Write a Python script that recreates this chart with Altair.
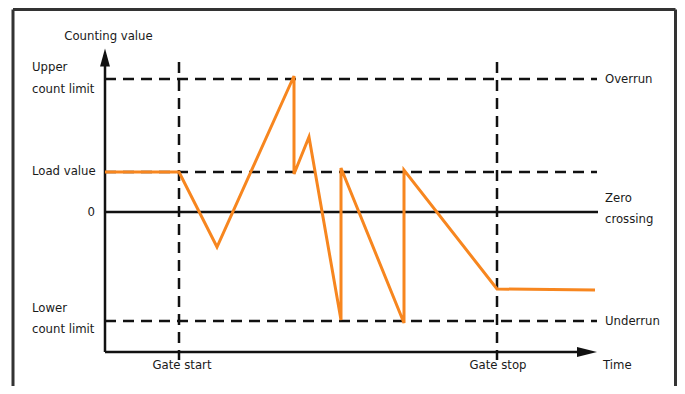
import altair as alt
import pandas as pd

# ---- data (diagram units: time on x, counting value on y) ----
levels = ["Upper count limit", "Load value", "Zero", "Lower count limit"]
level_values = [133, 40, 0, -109]
gate_names = ["Gate start", "Gate stop"]
gate_times = [74, 392]
curve_t = [0, 74, 112, 189, 189, 204, 236, 236, 299, 299, 392, 490]
curve_v = [40, 40, -35, 136, 38, 75, -108, 44, -111, 42, -77, -78]

W, H = 669, 378
XD = [-97, 572]
YD = [-174, 204]
xs = alt.Scale(domain=XD, nice=False, zero=False)
ys = alt.Scale(domain=YD, nice=False, zero=False)
FONT = "DejaVu Sans Condensed, sans-serif"
FS = 13
ORANGE = "#F7861F"
INK = "#111111"

def X(f):
    return alt.X(f, type="quantitative", scale=xs, axis=None)

def Y(f):
    return alt.Y(f, type="quantitative", scale=ys, axis=None)

AXIS_Y0 = -140   # time axis level
X_END = 492      # end of guide lines
V_TOP = 150
V_BOT = -148

# border (decoration, in pixels)
border = pd.DataFrame({
    "x": [5, 5, 667.5], "x2": [5, 667.5, 667.5],
    "y": [1.5, 1.5, 1.5], "y2": [378, 1.5, 378]})
border_layer = alt.Chart(border).mark_rule(color="#333333", strokeWidth=3).encode(
    x=alt.X("x:Q", scale=None, axis=None), x2="x2:Q",
    y=alt.Y("y:Q", scale=None, axis=None), y2="y2:Q")

dash_df = pd.DataFrame({"v": [level_values[0], level_values[1], level_values[3]],
                        "t0": [0, 0, 0], "t1": [X_END] * 3})
hdash = alt.Chart(dash_df).mark_rule(color=INK, strokeWidth=2.5, strokeDash=[11, 7]).encode(
    x=X("t0"), x2="t1:Q", y=Y("v"))

vdash_df = pd.DataFrame({"t": gate_times, "v0": [V_TOP] * 2, "v1": [V_BOT] * 2})
vdash = alt.Chart(vdash_df).mark_rule(color=INK, strokeWidth=2.5, strokeDash=[11, 7]).encode(
    x=X("t"), y=Y("v0"), y2="v1:Q")

zero_df = pd.DataFrame({"t0": [0], "t1": [X_END + 1], "v": [level_values[2]]})
zero_line = alt.Chart(zero_df).mark_rule(color=INK, strokeWidth=2.5).encode(
    x=X("t0"), x2="t1:Q", y=Y("v"))

axes_df = pd.DataFrame({"t0": [0, 0], "t1": [0, 480], "v0": [AXIS_Y0, AXIS_Y0], "v1": [152, AXIS_Y0]})
axes = alt.Chart(axes_df).mark_rule(color=INK, strokeWidth=2.5).encode(
    x=X("t0"), x2="t1:Q", y=Y("v0"), y2="v1:Q")

arrow_up = alt.Chart(pd.DataFrame({"t": [0], "v": [154.5]})).mark_point(
    shape="M0,-1L0.55,1L-0.55,1Z", filled=True, color=INK, opacity=1, size=324, strokeWidth=0
).encode(x=X("t"), y=Y("v"))
arrow_right = alt.Chart(pd.DataFrame({"t": [482], "v": [AXIS_Y0]})).mark_point(
    shape="M1,0L-1,-0.5L-1,0.5Z", filled=True, color=INK, opacity=1, size=400, strokeWidth=0
).encode(x=X("t"), y=Y("v"))

curve_df = pd.DataFrame({"t": curve_t, "v": curve_v, "i": list(range(len(curve_t)))})
curve = alt.Chart(curve_df).mark_line(color=ORANGE, strokeWidth=3, strokeJoin="miter").encode(
    x=X("t"), y=Y("v"), order="i:O")

# labels
left_lab = pd.DataFrame({
    "t": [-73, -73, -73, -73, -73],
    "v": [145, 123, level_values[1] + 1, -96, -117],
    "txt": ["Upper", "count limit", "Load value", "Lower", "count limit"]})
right_lab = pd.DataFrame({
    "t": [500, 500, 500, 500, 498],
    "v": [level_values[0], 14, -7, level_values[3], -153],
    "txt": ["Overrun", "Zero", "crossing", "Underrun", "Time"]})
center_lab = pd.DataFrame({
    "t": [3.5, gate_times[0] + 3, gate_times[1] + 1],
    "v": [176, -153, -153],
    "txt": ["Counting value", gate_names[0], gate_names[1]]})
zero_lab = pd.DataFrame({"t": [-10], "v": [0], "txt": ["0"]})

def texts(df, align):
    return alt.Chart(df).mark_text(align=align, baseline="middle", font=FONT,
                                   fontSize=FS, color="#1a1a1a").encode(
        x=X("t"), y=Y("v"), text="txt:N")

chart = alt.layer(
    border_layer, hdash, vdash, zero_line, axes, arrow_up, arrow_right, curve,
    texts(left_lab, "left"), texts(right_lab, "left"), texts(center_lab, "center"),
    texts(zero_lab, "right")
).properties(
    width=W, height=H, padding=0, autosize=alt.AutoSizeParams(type="none")
).configure_view(stroke=None)

chart.save("out.html", embed_options={"renderer": "svg", "actions": False})
